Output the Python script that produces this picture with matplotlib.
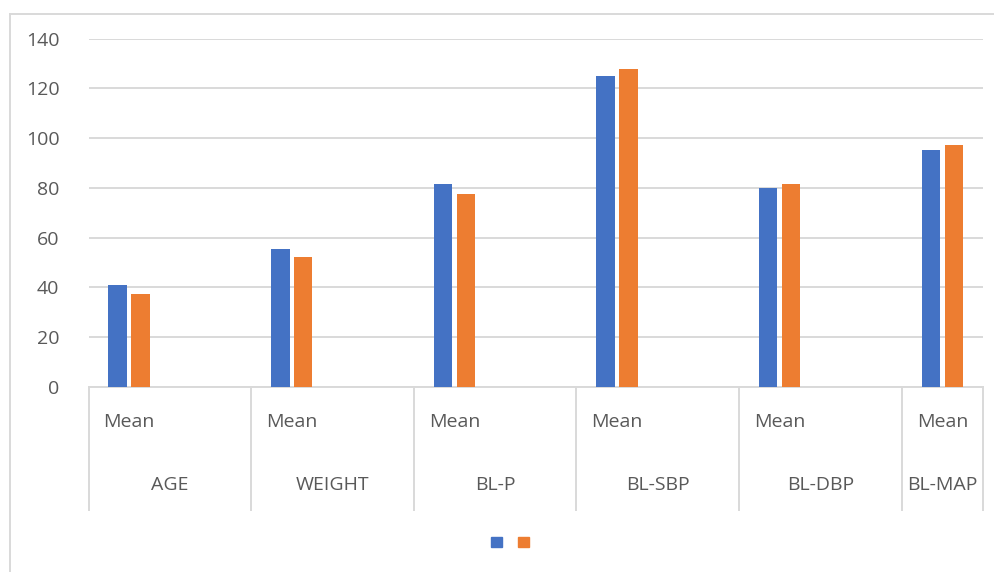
import matplotlib
matplotlib.use("Agg")
import matplotlib.pyplot as plt
from matplotlib.lines import Line2D
from matplotlib.patches import Patch
import matplotlib.transforms as mtransforms

# Measures and their sub-statistics (the second slot of each measure is left empty)
groups = ["AGE", "WEIGHT", "BL-P", "BL-SBP", "BL-DBP", "BL-MAP"]
sub_labels = ["Mean", ""]
series_a = [40.8, 55.6, 81.4, 125.1, 79.8, 95.3]
series_b = [37.5, 52.3, 77.4, 127.8, 81.7, 97.2]
y_ticks = [0, 20, 40, 60, 80, 100, 120, 140]

BLUE = "#4472C4"
ORANGE = "#ED7D31"
GRID = "#D9D9D9"
TEXT = "#595959"

plt.rcParams["font.family"] = ["Open Sans", "DejaVu Sans"]

W, H = 995, 572
fig = plt.figure(figsize=(W / 100, H / 100), dpi=100)
fig.patch.set_facecolor("white")

ax_left, ax_right = 88.5 / W, 983 / W
ax_bottom, ax_top = 1 - 387 / H, 1 - 38.5 / H
ax = fig.add_axes([ax_left, ax_bottom, ax_right - ax_left, ax_top - ax_bottom])

# 11 slots: Mean/empty per measure, the last measure truncated to its Mean slot
n_slots = len(groups) * 2 - 1
mean_pos = [2 * i for i in range(len(groups))]
bw = 0.227
off = 0.141
bars_a = ax.bar([p - off for p in mean_pos], series_a, width=bw, color=BLUE, linewidth=0, zorder=3)
bars_b = ax.bar([p + off for p in mean_pos], series_b, width=bw, color=ORANGE, linewidth=0, zorder=3)

ax.set_xlim(-0.5, n_slots - 0.5)
ax.set_ylim(0, 140)
ax.set_yticks(y_ticks)
ax.set_yticklabels([str(v) for v in y_ticks], fontsize=14, color=TEXT)
ax.tick_params(axis="y", length=0, pad=21)
ax.set_xticks([])
ax.yaxis.grid(True, color=GRID, linewidth=1.4, zorder=0)
ax.set_axisbelow(True)
for side in ["top", "right", "left"]:
    ax.spines[side].set_visible(False)
ax.spines["bottom"].set_color(GRID)
ax.spines["bottom"].set_linewidth(1.4)

# Multi-level category axis
trans = mtransforms.blended_transform_factory(ax.transData, ax.transAxes)
axes_h_px = 387 - 38.5
sep_bottom = -(510 - 387) / axes_h_px
sep_x = [-0.5] + [2 * i + 1.5 for i in range(len(groups) - 1)] + [n_slots - 0.5]
for x in sep_x:
    ax.add_line(Line2D([x, x], [0, sep_bottom], transform=trans, color=GRID,
                       linewidth=1.4, clip_on=False))

sub_y = -(422 - 387) / axes_h_px
grp_y = -(485 - 387) / axes_h_px
for i, g in enumerate(groups):
    for j, s in enumerate(sub_labels):
        pos = 2 * i + j
        if pos < n_slots and s:
            ax.text(pos, sub_y, s, transform=trans, ha="center", va="center",
                    fontsize=14, color=TEXT)
    left = sep_x[i]
    right = sep_x[i + 1]
    ax.text((left + right) / 2, grp_y, g, transform=trans, ha="center", va="center",
            fontsize=14, color=TEXT)

# Legend with unnamed series
leg = fig.legend([Patch(color=BLUE), Patch(color=ORANGE)], ["", ""],
                 loc="center", bbox_to_anchor=(510 / W, 1 - 542.5 / H),
                 ncol=2, frameon=False, fontsize=8, handlelength=1.0,
                 handleheight=1.0, handletextpad=0.0, columnspacing=1.45)

# Chart area border (extends past the right and bottom edges)
fig.add_artist(Line2D([9.5 / W, 9.5 / W], [1 - 13.5 / H, 0], transform=fig.transFigure,
                      color=GRID, linewidth=1.4))
fig.add_artist(Line2D([9.5 / W, 1], [1 - 13.5 / H, 1 - 13.5 / H], transform=fig.transFigure,
                      color=GRID, linewidth=1.4))

fig.savefig("out.png", dpi=100, facecolor="white")
